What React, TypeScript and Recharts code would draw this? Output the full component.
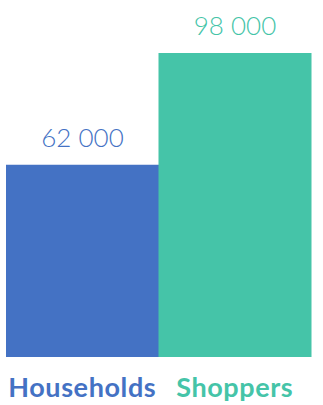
import { BarChart, Bar, XAxis, YAxis, Cell, LabelList } from "recharts";

const categories = ["Households", "Shoppers"];
const values = [62000, 98000];
const valueLabels = ["62 000", "98 000"];
const colors = ["#4472C4", "#45C4A8"];

const data = categories.map((name, i) => ({ name, value: values[i], label: valueLabels[i] }));

const CategoryTick = (props: any) => {
  const { x, y, payload, index } = props;
  return (
    <text
      x={x}
      y={y}
      dy={32}
      textAnchor="middle"
      fill={colors[index]}
      fontFamily="Lato"
      fontWeight={700}
      fontSize={27}
      letterSpacing={0.6}
    >
      {payload.value}
    </text>
  );
};

const ValueLabel = (props: any) => {
  const { x, y, width, index } = props;
  return (
    <text
      x={x + width / 2}
      y={y - 18}
      textAnchor="middle"
      fill={colors[index]}
      fontFamily="Lato"
      fontWeight={300}
      fontSize={26}
    >
      {valueLabels[index]}
    </text>
  );
};

export default function App() {
  return (
    <div style={{ position: "fixed", top: 0, left: 0, width: 323, height: 405, background: "#fff" }}>
      <BarChart
        width={323}
        height={405}
        data={data}
        margin={{ top: 53, right: 12, left: 6, bottom: 0 }}
        barCategoryGap={0}
      >
        <XAxis
          dataKey="name"
          axisLine={false}
          tickLine={false}
          height={48}
          interval={0}
          tick={<CategoryTick />}
        />
        <YAxis hide domain={[0, 98000]} />
        <Bar dataKey="value" isAnimationActive={false}>
          {data.map((d, i) => (
            <Cell key={d.name} fill={colors[i]} />
          ))}
          <LabelList dataKey="label" content={<ValueLabel />} />
        </Bar>
      </BarChart>
    </div>
  );
}
